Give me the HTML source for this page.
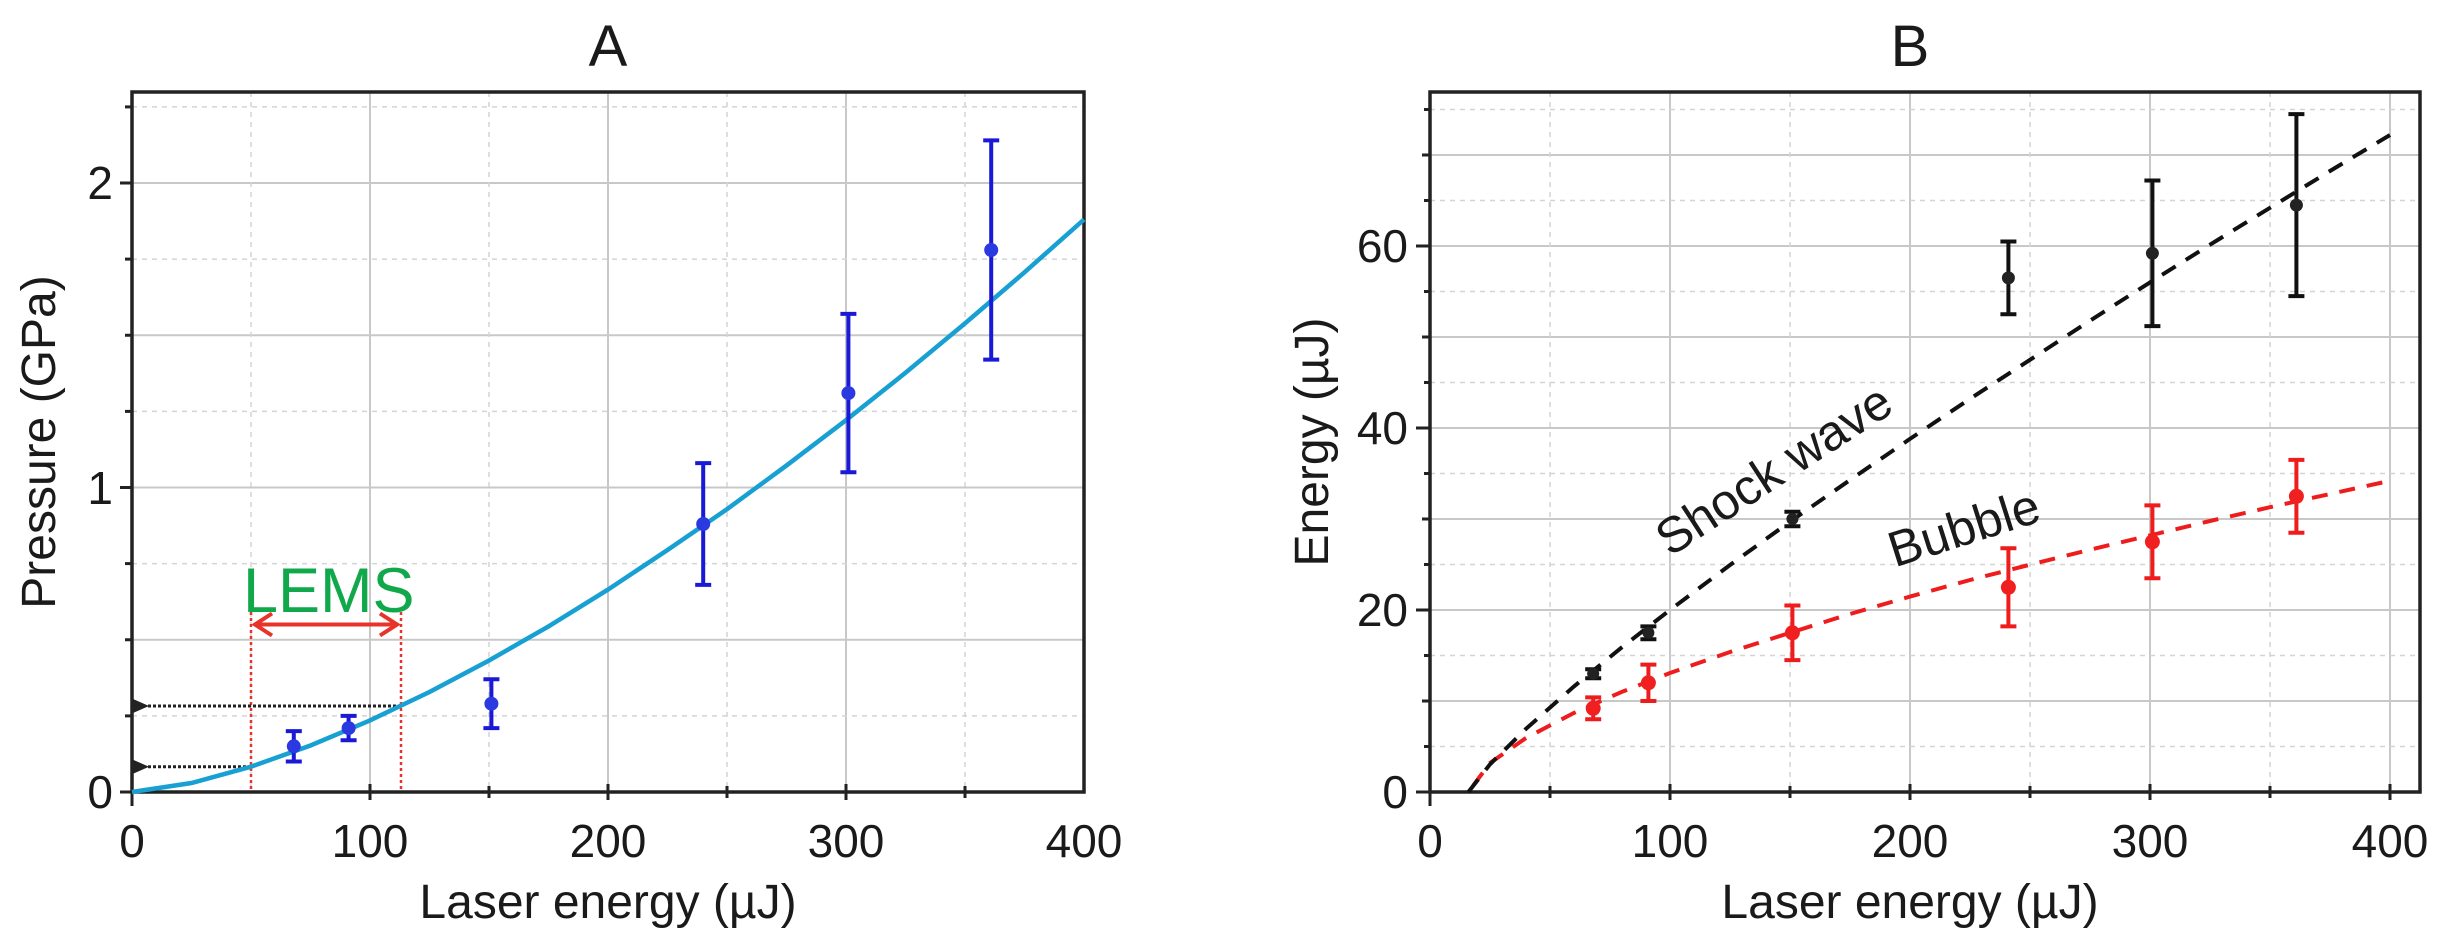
<!DOCTYPE html>
<html><head><meta charset="utf-8"><style>
html,body{margin:0;padding:0;background:#fff}
svg{display:block}
text{font-family:"Liberation Sans",sans-serif;fill:#1a1a1a}
</style></head><body>
<svg width="2452" height="946" viewBox="0 0 2452 946" xmlns="http://www.w3.org/2000/svg">
<defs>
<marker id="ah" markerWidth="16" markerHeight="16" refX="1" refY="8" orient="auto" markerUnits="userSpaceOnUse"><path d="M16,1 L0,8 L16,15 Z" fill="#222"/></marker>
<marker id="rl" markerWidth="22" markerHeight="26" refX="2" refY="13" orient="auto" markerUnits="userSpaceOnUse"><path d="M20,2 L3,13 L20,24" fill="none" stroke="#e8332a" stroke-width="4"/></marker>
<marker id="rr" markerWidth="22" markerHeight="26" refX="20" refY="13" orient="auto" markerUnits="userSpaceOnUse"><path d="M2,2 L19,13 L2,24" fill="none" stroke="#e8332a" stroke-width="4"/></marker>
</defs>

<!-- ===== Panel A ===== -->
<text x="608" y="66" font-size="58" text-anchor="middle">A</text>
<g stroke="#c8c8c8" stroke-width="2">
<line x1="370" y1="92" x2="370" y2="792"/><line x1="608" y1="92" x2="608" y2="792"/><line x1="846" y1="92" x2="846" y2="792"/>
<line x1="132" y1="639.75" x2="1084" y2="639.75"/><line x1="132" y1="487.5" x2="1084" y2="487.5"/><line x1="132" y1="335.25" x2="1084" y2="335.25"/><line x1="132" y1="183" x2="1084" y2="183"/>
</g>
<g stroke="#d4d4d4" stroke-width="1.5" stroke-dasharray="5,5">
<line x1="251" y1="92" x2="251" y2="792"/><line x1="489" y1="92" x2="489" y2="792"/><line x1="727" y1="92" x2="727" y2="792"/><line x1="965" y1="92" x2="965" y2="792"/>
<line x1="132" y1="715.9" x2="1084" y2="715.9"/><line x1="132" y1="563.6" x2="1084" y2="563.6"/><line x1="132" y1="411.4" x2="1084" y2="411.4"/><line x1="132" y1="259.1" x2="1084" y2="259.1"/><line x1="132" y1="106.9" x2="1084" y2="106.9"/>
</g>
<rect x="132" y="92" width="952" height="700" fill="none" stroke="#222" stroke-width="3.5"/>
<g stroke="#222" stroke-width="3">
<line x1="132" y1="792" x2="132" y2="806"/><line x1="370" y1="784" x2="370" y2="800"/><line x1="608" y1="784" x2="608" y2="800"/><line x1="846" y1="784" x2="846" y2="800"/>
<line x1="489" y1="786" x2="489" y2="798"/><line x1="727" y1="786" x2="727" y2="798"/><line x1="965" y1="786" x2="965" y2="798"/>
<line x1="120" y1="792" x2="132" y2="792"/><line x1="120" y1="487.5" x2="132" y2="487.5"/><line x1="120" y1="183" x2="132" y2="183"/>
<line x1="125" y1="639.75" x2="132" y2="639.75"/><line x1="125" y1="335.25" x2="132" y2="335.25"/>
<line x1="125" y1="715.9" x2="132" y2="715.9"/><line x1="125" y1="563.6" x2="132" y2="563.6"/><line x1="125" y1="411.4" x2="132" y2="411.4"/><line x1="125" y1="259.1" x2="132" y2="259.1"/><line x1="125" y1="106.9" x2="132" y2="106.9"/>
</g>
<g stroke="#e8332a" stroke-width="2.5" stroke-dasharray="3,3">
<line x1="251" y1="612" x2="251" y2="792"/><line x1="401" y1="612" x2="401" y2="792"/>
</g>
<line x1="254" y1="624.5" x2="398" y2="624.5" stroke="#e8332a" stroke-width="4" marker-start="url(#rl)" marker-end="url(#rr)"/>
<text x="243" y="612" font-size="63" style="fill:#10a84a">LEMS</text>
<g stroke="#222" stroke-width="3" stroke-dasharray="3,2">
<line x1="251" y1="766.7" x2="148" y2="766.7" marker-end="url(#ah)"/>
<line x1="401" y1="706" x2="148" y2="706" marker-end="url(#ah)"/>
</g>
<polyline fill="none" stroke="#18a0d2" stroke-width="4.5" points="132,792 191.5,783 251,766.7 310.5,745.5 370,720.4 429.5,692 489,660.5 548.5,626.4 608,589.6 667.5,550 727,509.2 786.5,465.5 846,420.2 905.5,372.8 965,323.4 1024.5,272.3 1084,219.5"/>
<g stroke="#1a1ad6" stroke-width="4" fill="none">
<path d="M293.8,761.5V731.1M285.8,761.5H301.8M285.8,731.1H301.8"/>
<path d="M348.6,740.3V715.9M340.6,740.3H356.6M340.6,715.9H356.6"/>
<path d="M491.4,728.1V679.3M483.4,728.1H499.4M483.4,679.3H499.4"/>
<path d="M703.2,584.9V463.1M695.2,584.9H711.2M695.2,463.1H711.2"/>
<path d="M848.4,472.3V313.9M840.4,472.3H856.4M840.4,313.9H856.4"/>
<path d="M991.2,359.6V140.4M983.2,359.6H999.2M983.2,140.4H999.2"/>
</g>
<g fill="#2a3ae0">
<circle cx="293.8" cy="746.3" r="7"/><circle cx="348.6" cy="728.1" r="7"/><circle cx="491.4" cy="703.7" r="7"/><circle cx="703.2" cy="524" r="7"/><circle cx="848.4" cy="393.1" r="7"/><circle cx="991.2" cy="250" r="7"/>
</g>
<g font-size="46" text-anchor="middle">
<text x="132" y="857">0</text><text x="370" y="857">100</text><text x="608" y="857">200</text><text x="846" y="857">300</text><text x="1084" y="857">400</text>
</g>
<g font-size="46" text-anchor="end">
<text x="113" y="808">0</text><text x="113" y="504">1</text><text x="113" y="199">2</text>
</g>
<text x="608" y="918" font-size="48" text-anchor="middle">Laser energy (µJ)</text>
<text transform="translate(55,442) rotate(-90)" font-size="48" text-anchor="middle">Pressure (GPa)</text>

<!-- ===== Panel B ===== -->
<text x="1910" y="66" font-size="58" text-anchor="middle">B</text>
<g stroke="#c8c8c8" stroke-width="2">
<line x1="1670" y1="92" x2="1670" y2="792"/><line x1="1910" y1="92" x2="1910" y2="792"/><line x1="2150" y1="92" x2="2150" y2="792"/><line x1="2390" y1="92" x2="2390" y2="792"/>
<line x1="1430" y1="701" x2="2420" y2="701"/><line x1="1430" y1="610" x2="2420" y2="610"/><line x1="1430" y1="519" x2="2420" y2="519"/><line x1="1430" y1="428" x2="2420" y2="428"/><line x1="1430" y1="337" x2="2420" y2="337"/><line x1="1430" y1="246" x2="2420" y2="246"/><line x1="1430" y1="155" x2="2420" y2="155"/>
</g>
<g stroke="#d4d4d4" stroke-width="1.5" stroke-dasharray="5,5">
<line x1="1550" y1="92" x2="1550" y2="792"/><line x1="1790" y1="92" x2="1790" y2="792"/><line x1="2030" y1="92" x2="2030" y2="792"/><line x1="2270" y1="92" x2="2270" y2="792"/>
<line x1="1430" y1="746.5" x2="2420" y2="746.5"/><line x1="1430" y1="655.5" x2="2420" y2="655.5"/><line x1="1430" y1="564.5" x2="2420" y2="564.5"/><line x1="1430" y1="473.5" x2="2420" y2="473.5"/><line x1="1430" y1="382.5" x2="2420" y2="382.5"/><line x1="1430" y1="291.5" x2="2420" y2="291.5"/><line x1="1430" y1="200.5" x2="2420" y2="200.5"/><line x1="1430" y1="109.5" x2="2420" y2="109.5"/>
</g>
<rect x="1430" y="92" width="990" height="700" fill="none" stroke="#222" stroke-width="3.5"/>
<g stroke="#222" stroke-width="3">
<line x1="1430" y1="792" x2="1430" y2="806"/><line x1="1670" y1="784" x2="1670" y2="800"/><line x1="1910" y1="784" x2="1910" y2="800"/><line x1="2150" y1="784" x2="2150" y2="800"/><line x1="2390" y1="784" x2="2390" y2="800"/>
<line x1="1550" y1="786" x2="1550" y2="798"/><line x1="1790" y1="786" x2="1790" y2="798"/><line x1="2030" y1="786" x2="2030" y2="798"/><line x1="2270" y1="786" x2="2270" y2="798"/>
<line x1="1416" y1="792" x2="1430" y2="792"/><line x1="1416" y1="610" x2="1430" y2="610"/><line x1="1416" y1="428" x2="1430" y2="428"/><line x1="1416" y1="246" x2="1430" y2="246"/>
<line x1="1422" y1="701" x2="1430" y2="701"/><line x1="1422" y1="519" x2="1430" y2="519"/><line x1="1422" y1="337" x2="1430" y2="337"/><line x1="1422" y1="155" x2="1430" y2="155"/>
<line x1="1424" y1="746.5" x2="1430" y2="746.5"/><line x1="1424" y1="655.5" x2="1430" y2="655.5"/><line x1="1424" y1="564.5" x2="1430" y2="564.5"/><line x1="1424" y1="473.5" x2="1430" y2="473.5"/><line x1="1424" y1="382.5" x2="1430" y2="382.5"/><line x1="1424" y1="291.5" x2="1430" y2="291.5"/><line x1="1424" y1="200.5" x2="1430" y2="200.5"/><line x1="1424" y1="109.5" x2="1430" y2="109.5"/>
</g>
<polyline fill="none" stroke="#ee1c1c" stroke-width="4" stroke-dasharray="16,12" stroke-dashoffset="20" points="1468.4,792 1490,763 1526,738 1574,712.9 1622,691.8 1670,673 1730,652 1790,632.8 1850,614 1910,596.6 1970,580 2030,564.7 2090,549.7 2150,535.4 2210,521 2270,507.2 2330,494 2390,480.8"/>
<polyline fill="none" stroke="#111" stroke-width="4" stroke-dasharray="16,12" points="1468.4,792 1490,764.3 1526,728.8 1574,686.4 1622,647.2 1670,610 1730,565 1790,521.7 1850,480 1910,438.9 1970,398.8 2030,359.8 2090,320.7 2150,282.4 2210,244.7 2270,207.8 2330,171 2390,135"/>
<g stroke="#111" stroke-width="4" fill="none">
<path d="M1593.2,678.3V669.2M1585.2,678.3H1601.2M1585.2,669.2H1601.2"/>
<path d="M1648.4,639.2V626.4M1640.4,639.2H1656.4M1640.4,626.4H1656.4"/>
<path d="M1792.4,526.3V511.7M1784.4,526.3H1800.4M1784.4,511.7H1800.4"/>
<path d="M2008.4,314.3V241.5M2000.4,314.3H2016.4M2000.4,241.5H2016.4"/>
<path d="M2152.4,326.1V180.5M2144.4,326.1H2160.4M2144.4,180.5H2160.4"/>
<path d="M2296.4,296.1V114.1M2288.4,296.1H2304.4M2288.4,114.1H2304.4"/>
</g>
<g fill="#222">
<circle cx="1593.2" cy="673.7" r="6"/><circle cx="1648.4" cy="632.8" r="6"/><circle cx="1792.4" cy="519" r="6"/><circle cx="2008.4" cy="277.9" r="6.5"/><circle cx="2152.4" cy="253.3" r="6.5"/><circle cx="2296.4" cy="205.1" r="6.5"/>
</g>
<g stroke="#ee1c1c" stroke-width="4" fill="none">
<path d="M1593.2,719.2V697.4M1585.2,719.2H1601.2M1585.2,697.4H1601.2"/>
<path d="M1648.4,701V664.6M1640.4,701H1656.4M1640.4,664.6H1656.4"/>
<path d="M1792.4,660.1V605.5M1784.4,660.1H1800.4M1784.4,605.5H1800.4"/>
<path d="M2008.4,626.4V548.2M2000.4,626.4H2016.4M2000.4,548.2H2016.4"/>
<path d="M2152.4,578.2V505.4M2144.4,578.2H2160.4M2144.4,505.4H2160.4"/>
<path d="M2296.4,532.7V459.9M2288.4,532.7H2304.4M2288.4,459.9H2304.4"/>
</g>
<g fill="#f02020">
<circle cx="1593.2" cy="708.3" r="7.5"/><circle cx="1648.4" cy="682.8" r="7.5"/><circle cx="1792.4" cy="632.8" r="7.5"/><circle cx="2008.4" cy="587.3" r="7.5"/><circle cx="2152.4" cy="541.8" r="7.5"/><circle cx="2296.4" cy="496.3" r="7.5"/>
</g>
<text transform="translate(1783,484) rotate(-33)" font-size="50" text-anchor="middle">Shock wave</text>
<text transform="translate(1969,544) rotate(-17.6)" font-size="50" text-anchor="middle">Bubble</text>
<g font-size="46" text-anchor="middle">
<text x="1430" y="857">0</text><text x="1670" y="857">100</text><text x="1910" y="857">200</text><text x="2150" y="857">300</text><text x="2390" y="857">400</text>
</g>
<g font-size="46" text-anchor="end">
<text x="1408" y="808">0</text><text x="1408" y="626">20</text><text x="1408" y="444">40</text><text x="1408" y="262">60</text>
</g>
<text x="1910" y="918" font-size="48" text-anchor="middle">Laser energy (µJ)</text>
<text transform="translate(1328,442) rotate(-90)" font-size="48" text-anchor="middle">Energy (µJ)</text>
</svg>
</body></html>
